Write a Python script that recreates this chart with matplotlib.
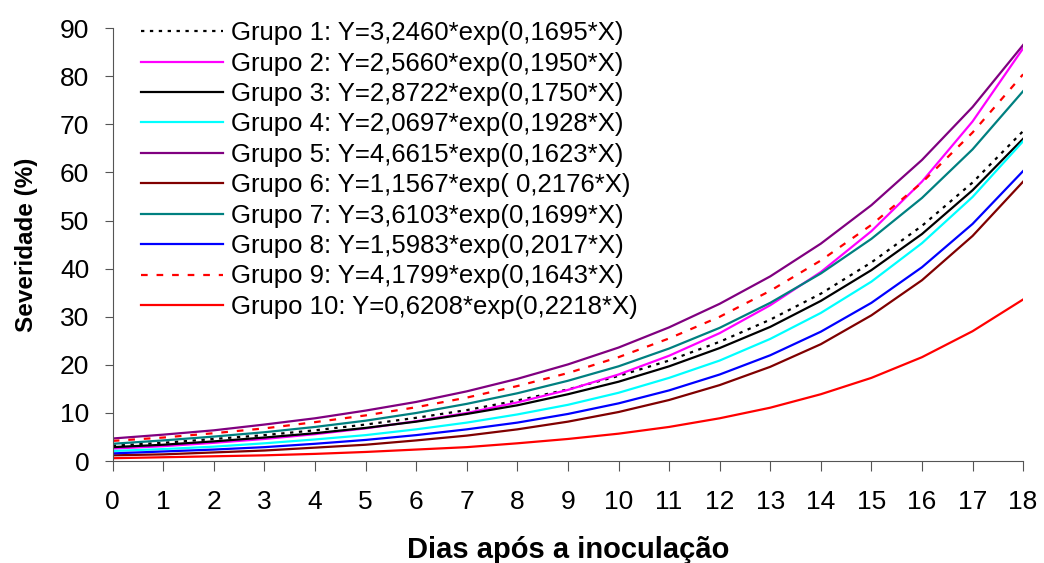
import matplotlib
matplotlib.use("Agg")
import matplotlib.pyplot as plt

plt.rcParams['font.family']=['Liberation Sans','DejaVu Sans']

dias=list(range(19))
g1=[3.2,3.8,4.6,5.4,6.4,7.6,9.0,10.6,12.6,14.9,17.7,20.9,24.8,29.4,34.8,41.3,48.9,57.9,68.6]
g2=[2.6,3.1,3.8,4.6,5.6,6.8,8.3,10.0,12.2,14.8,18.0,21.9,26.6,32.4,39.3,47.8,58.1,70.6,85.8]
g3=[2.9,3.4,4.1,4.9,5.8,6.9,8.2,9.8,11.6,13.9,16.5,19.7,23.5,27.9,33.3,39.7,47.2,56.3,67.0]
g4=[2.1,2.5,3.0,3.7,4.5,5.4,6.6,8.0,9.7,11.7,14.2,17.3,20.9,25.4,30.8,37.3,45.3,54.9,66.5]
g5=[4.7,5.5,6.4,7.6,8.9,10.5,12.3,14.5,17.1,20.1,23.6,27.8,32.7,38.4,45.2,53.2,62.6,73.6,86.5]
g6=[1.2,1.4,1.8,2.2,2.8,3.4,4.3,5.3,6.6,8.2,10.2,12.7,15.8,19.6,24.3,30.3,37.6,46.8,58.1]
g7=[3.6,4.3,5.1,6.0,7.1,8.4,10.0,11.9,14.1,16.7,19.7,23.4,27.7,32.9,39.0,46.2,54.7,64.8,76.9]
g8=[1.6,2.0,2.4,2.9,3.6,4.4,5.4,6.6,8.0,9.8,12.0,14.7,18.0,22.0,26.9,32.9,40.3,49.3,60.3]
g9=[4.2,4.9,5.8,6.8,8.1,9.5,11.2,13.2,15.6,18.3,21.6,25.5,30.0,35.4,41.7,49.1,57.9,68.3,80.4]
g10=[0.6,0.8,1.0,1.2,1.5,1.9,2.4,2.9,3.7,4.6,5.7,7.1,8.9,11.1,13.9,17.3,21.6,27.0,33.6]

rotulos=["Grupo 1: Y=3,2460*exp(0,1695*X)",
	"Grupo 2: Y=2,5660*exp(0,1950*X)",
	"Grupo 3: Y=2,8722*exp(0,1750*X)",
	"Grupo 4: Y=2,0697*exp(0,1928*X)",
	"Grupo 5: Y=4,6615*exp(0,1623*X)",
	"Grupo 6: Y=1,1567*exp( 0,2176*X)",
	"Grupo 7: Y=3,6103*exp(0,1699*X)",
	"Grupo 8: Y=1,5983*exp(0,2017*X)",
	"Grupo 9: Y=4,1799*exp(0,1643*X)",
	"Grupo 10: Y=0,6208*exp(0,2218*X)"]
series=[g1,g2,g3,g4,g5,g6,g7,g8,g9,g10]
cores=["#000000","#FF00FF","#000000","#00FFFF","#800080","#800000","#008080","#0000FF","#FF0000","#FF0000"]
estilos=[(0,(1.5,2.5)),"-","-","-","-","-","-","-",(0,(3,4)),"-"]

fig=plt.figure(figsize=(10.44,5.63),dpi=100)
ax=fig.add_axes([0.108,0.181,0.872,0.769])
for i in range(10):
	ax.plot(dias,series[i],color=cores[i],linestyle=estilos[i],linewidth=1.6,label=rotulos[i])
ax.set_xlim(0,18)
ax.set_ylim(0,90)
ax.set_xticks(range(0,19))
ax.set_yticks(range(0,91,10))
for s in ["top","right"]:
	ax.spines[s].set_visible(False)
for s in ["left","bottom"]:
	ax.spines[s].set_color("#555555")
ax.tick_params(axis="x",labelsize=19,pad=14,length=7,color="#555555")
ax.tick_params(axis="y",labelsize=19,pad=11,length=6,color="#555555")
ax.set_xlabel("Dias após a inoculação",fontsize=21,fontweight="bold",labelpad=16)
ax.set_ylabel("Severidade (%)",fontsize=17.5,fontweight="bold",labelpad=16)
ax.legend(loc="upper left",bbox_to_anchor=(0.02,1.04),frameon=False,fontsize=18.5,
	handlelength=3.2,handletextpad=0.3,labelspacing=0.25,borderaxespad=0)
fig.savefig("out.png",dpi=100)
